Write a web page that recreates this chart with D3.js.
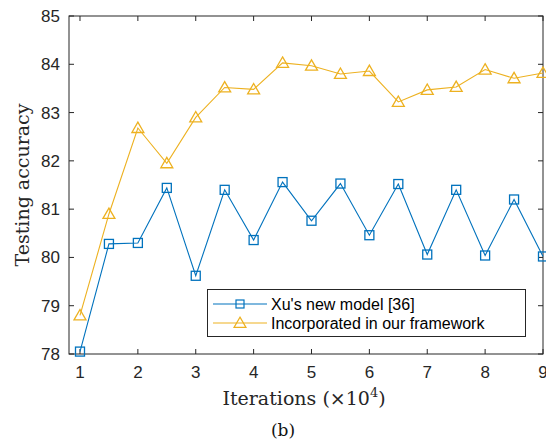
<!DOCTYPE html>
<html>
<head>
<meta charset="utf-8">
<script src="https://cdn.jsdelivr.net/npm/d3@7"></script>
<style>
  body { margin: 0; background: #fff; }
  svg { display: block; }
</style>
</head>
<body>
<div id="chart"></div>
<script>
const iterations = [1, 1.5, 2, 2.5, 3, 3.5, 4, 4.5, 5, 5.5, 6, 6.5, 7, 7.5, 8, 8.5, 9];
const xuModel = [78.05, 80.28, 80.30, 81.44, 79.62, 81.40, 80.36, 81.56, 80.76, 81.53, 80.46, 81.52, 80.06, 81.40, 80.04, 81.20, 80.02];
const ourFramework = [78.80, 80.90, 82.68, 81.95, 82.90, 83.52, 83.48, 84.03, 83.97, 83.80, 83.86, 83.22, 83.47, 83.53, 83.89, 83.71, 83.82];
const xTicks = [1, 2, 3, 4, 5, 6, 7, 8, 9];
const yTicks = [78, 79, 80, 81, 82, 83, 84, 85];
const seriesNames = ["Xu's new model [36]", "Incorporated in our framework"];

const W = 546, H = 446;
const margin = { left: 69, top: 16, right: 3, bottom: 92 };
const axisColor = "#262626";
const blue = "#0072BD", orange = "#EDB120";

const svg = d3.select("#chart").append("svg")
    .attr("width", W).attr("height", H);

const x = d3.scaleLinear().domain([0.81, 9]).range([margin.left, W - margin.right]);
const y = d3.scaleLinear().domain([78, 85]).range([H - margin.bottom, margin.top]);

const plot = svg.append("g");

// ticks inside on all four sides (matlab box)
const tickLen = 5;
const ticks = plot.append("g").attr("stroke", axisColor).attr("stroke-width", 1);
xTicks.forEach(function (t) {
    ticks.append("line").attr("x1", x(t)).attr("x2", x(t))
        .attr("y1", y(78)).attr("y2", y(78) - tickLen);
    ticks.append("line").attr("x1", x(t)).attr("x2", x(t))
        .attr("y1", y(85)).attr("y2", y(85) + tickLen);
});
yTicks.forEach(function (t) {
    ticks.append("line").attr("x1", x(0.81)).attr("x2", x(0.81) + tickLen)
        .attr("y1", y(t)).attr("y2", y(t));
    ticks.append("line").attr("x1", x(9)).attr("x2", x(9) - tickLen)
        .attr("y1", y(t)).attr("y2", y(t));
});

plot.append("rect")
    .attr("x", x(0.81)).attr("y", y(85))
    .attr("width", x(9) - x(0.81)).attr("height", y(78) - y(85))
    .attr("fill", "none").attr("stroke", axisColor).attr("stroke-width", 1);

// tick labels
const labelFont = "'Liberation Sans', Arial, sans-serif";
plot.append("g").selectAll("text").data(xTicks).join("text")
    .attr("x", d => x(d)).attr("y", y(78) + 24)
    .attr("text-anchor", "middle")
    .attr("font-family", labelFont).attr("font-size", 17)
    .attr("fill", axisColor)
    .text(d => d);

plot.append("g").selectAll("text").data(yTicks).join("text")
    .attr("x", x(0.81) - 9).attr("y", d => y(d) + 6)
    .attr("text-anchor", "end")
    .attr("font-family", labelFont).attr("font-size", 17)
    .attr("fill", axisColor)
    .text(d => d);

// axis titles (latex style)
const serif = "'DejaVu Serif', 'Liberation Serif', serif";
const xTitle = svg.append("text")
    .attr("x", 304).attr("y", 405)
    .attr("text-anchor", "middle")
    .attr("font-family", serif).attr("font-size", 19)
    .attr("fill", axisColor);
xTitle.append("tspan").text("Iterations (\u00d710");
xTitle.append("tspan").attr("font-size", 13).attr("dy", -8).text("4");
xTitle.append("tspan").attr("dy", 8).text(")");

svg.append("text")
    .attr("transform", `translate(29, ${y(81.5)}) rotate(-90)`)
    .attr("text-anchor", "middle")
    .attr("font-family", serif).attr("font-size", 19)
    .attr("fill", axisColor)
    .text("Testing accuracy");

svg.append("text")
    .attr("x", 283).attr("y", 436)
    .attr("text-anchor", "middle")
    .attr("font-family", serif).attr("font-size", 17)
    .attr("fill", "#111")
    .text("(b)");

// series
const line = d3.line().x(d => x(d[0])).y(d => y(d[1]));
const xuData = iterations.map((v, i) => [v, xuModel[i]]);
const ourData = iterations.map((v, i) => [v, ourFramework[i]]);

const tri = d3.symbol().type(d3.symbolTriangle).size(62);

plot.append("path").datum(ourData)
    .attr("d", line).attr("fill", "none")
    .attr("stroke", orange).attr("stroke-width", 1.1);
plot.append("path").datum(xuData)
    .attr("d", line).attr("fill", "none")
    .attr("stroke", blue).attr("stroke-width", 1.1);

plot.append("g").selectAll("path").data(ourData).join("path")
    .attr("transform", d => `translate(${x(d[0])},${y(d[1]) + 1})`)
    .attr("d", tri)
    .attr("fill", "none").attr("stroke", orange).attr("stroke-width", 1.3);

plot.append("g").selectAll("rect").data(xuData).join("rect")
    .attr("x", d => x(d[0]) - 4.5).attr("y", d => y(d[1]) - 4.5)
    .attr("width", 9).attr("height", 9)
    .attr("fill", "none").attr("stroke", blue).attr("stroke-width", 1.3);

// legend
const legend = svg.append("g");
legend.append("rect")
    .attr("x", 207.5).attr("y", 289.5).attr("width", 318).attr("height", 47)
    .attr("fill", "#fff").attr("stroke", axisColor).attr("stroke-width", 1);

const legendRows = [
    { name: seriesNames[0], color: blue, marker: "square", yPos: 304 },
    { name: seriesNames[1], color: orange, marker: "triangle", yPos: 323 }
];
legendRows.forEach(function (r) {
    legend.append("line")
        .attr("x1", 213).attr("x2", 267)
        .attr("y1", r.yPos).attr("y2", r.yPos)
        .attr("stroke", r.color).attr("stroke-width", 1.1);
    if (r.marker == "square") {
        legend.append("rect")
            .attr("x", 240 - 4).attr("y", r.yPos - 4)
            .attr("width", 8).attr("height", 8)
            .attr("fill", "none").attr("stroke", r.color).attr("stroke-width", 1.2);
    }
    else {
        legend.append("path")
            .attr("transform", `translate(240,${r.yPos + 1})`)
            .attr("d", tri)
            .attr("fill", "none").attr("stroke", r.color).attr("stroke-width", 1.2);
    }
    legend.append("text")
        .attr("x", 271).attr("y", r.yPos + 5.5)
        .attr("font-family", labelFont).attr("font-size", 16)
        .attr("fill", "#000")
        .text(r.name);
});
</script>
</body>
</html>
